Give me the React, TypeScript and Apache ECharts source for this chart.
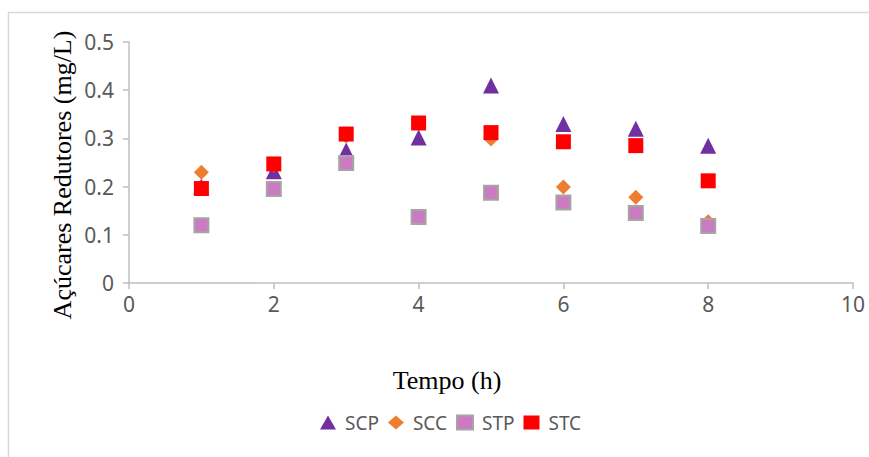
import React, { useEffect, useRef } from "react";
import * as echarts from "echarts";

const hours = [1, 2, 3, 4, 5, 6, 7, 8];
const scp = [0.2, 0.232, 0.275, 0.302, 0.41, 0.33, 0.32, 0.285];
const scc = [0.23, 0.245, 0.305, 0.33, 0.299, 0.199, 0.178, 0.127];
const stp = [0.12, 0.195, 0.249, 0.137, 0.187, 0.167, 0.145, 0.118];
const stc = [0.196, 0.247, 0.309, 0.332, 0.312, 0.293, 0.285, 0.212];

const xTitle = "Tempo (h)";
const yTitle = "Açúcares Redutores (mg/L)";

const tickFont = "'Noto Sans', sans-serif";
const titleFont = "'Liberation Serif', 'DejaVu Serif', serif";

const pair = (ys: number[]) => hours.map((h, i) => [h, ys[i]]);

export default function App() {
  const ref = useRef<HTMLDivElement>(null);
  useEffect(() => {
    if (!ref.current) return;
    const chart = echarts.init(ref.current, null, { renderer: "svg" });
    chart.setOption({
      animation: false,
      backgroundColor: "#ffffff",
      grid: { left: 129, right: 16, top: 42, bottom: 174, outerBoundsMode: "none" },
      xAxis: {
        type: "value",
        min: 0,
        max: 10,
        interval: 2,
        splitLine: { show: false },
        axisLine: { lineStyle: { color: "#BFBFBF", width: 1.5 } },
        axisTick: { show: true, length: 6, lineStyle: { color: "#BFBFBF", width: 1.5 } },
        axisLabel: { color: "#595959", fontSize: 21, fontFamily: tickFont, margin: 10 },
      },
      yAxis: {
        type: "value",
        min: 0,
        max: 0.5,
        interval: 0.1,
        splitLine: { show: false },
        axisLine: { show: true, lineStyle: { color: "#BFBFBF", width: 1.5 } },
        axisTick: { show: true, length: 6, lineStyle: { color: "#BFBFBF", width: 1.5 } },
        axisLabel: { color: "#595959", fontSize: 21, fontFamily: tickFont, margin: 15 },
      },
      legend: {
        left: 315,
        top: 408,
        itemWidth: 16,
        itemHeight: 14,
        itemGap: 9,
        textStyle: { color: "#595959", fontSize: 19, fontFamily: tickFont, padding: [0, 0, 0, 4] },
        data: ["SCP", "SCC", "STP", "STC"],
      },
      graphic: [
        {
          type: "rect",
          shape: { x: 8.5, y: 12.5, width: 2000, height: 2000 },
          style: { fill: "none", stroke: "#D9D9D9", lineWidth: 1.5 },
          silent: true,
        },
        {
          type: "text",
          x: 62,
          y: 175,
          rotation: Math.PI / 2,
          style: {
            text: yTitle,
            fontSize: 26,
            fontFamily: titleFont,
            fill: "#000000",
            align: "center",
            verticalAlign: "middle",
          },
        },
        {
          type: "text",
          x: 447,
          y: 380,
          style: {
            text: xTitle,
            fontSize: 26,
            fontFamily: titleFont,
            fill: "#000000",
            align: "center",
            verticalAlign: "middle",
          },
        },
      ],
      series: [
        {
          name: "SCP",
          type: "scatter",
          symbol: "triangle",
          symbolSize: 16,
          itemStyle: { color: "#7030A0", opacity: 1 },
          data: pair(scp),
        },
        {
          name: "SCC",
          type: "scatter",
          symbol: "diamond",
          symbolSize: 15,
          itemStyle: { color: "#ED7D31", opacity: 1 },
          data: pair(scc),
        },
        {
          name: "STP",
          type: "scatter",
          symbol: "rect",
          symbolSize: 14,
          itemStyle: { color: "#CC7AC2", borderColor: "#A5A5A5", borderWidth: 2, opacity: 1 },
          data: pair(stp),
        },
        {
          name: "STC",
          type: "scatter",
          symbol: "rect",
          symbolSize: 15,
          itemStyle: { color: "#FF0000", opacity: 1 },
          data: pair(stc),
        },
      ],
    });
    return () => chart.dispose();
  }, []);
  return (
    <div
      ref={ref}
      style={{ position: "absolute", left: 0, top: 0, width: 869, height: 457 }}
    />
  );
}
